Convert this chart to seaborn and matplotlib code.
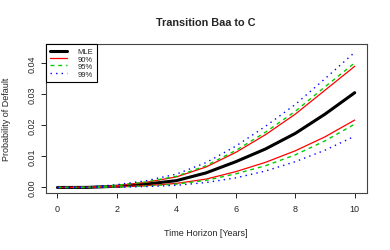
import matplotlib
matplotlib.use("Agg")
import matplotlib.pyplot as plt
import numpy as np
import pandas as pd
import seaborn as sns

# Values, one per year.
years = [0, 1, 2, 3, 4, 5, 6, 7, 8, 9, 10]
mle = [0.0, 0.00003, 0.0004, 0.0011, 0.0022, 0.0047, 0.0083, 0.0124, 0.0174, 0.0236, 0.0305]
ci90_low = [0.0, 0.00001, 0.0002, 0.0006, 0.0013, 0.0027, 0.0051, 0.0081, 0.0118, 0.0163, 0.0217]
ci90_high = [0.0, 0.00006, 0.0006, 0.0017, 0.0034, 0.0066, 0.0113, 0.0170, 0.0236, 0.0313, 0.0390]
ci95_low = [0.0, 0.00001, 0.00015, 0.0005, 0.0011, 0.0023, 0.0044, 0.0070, 0.0105, 0.0150, 0.0204]
ci95_high = [0.0, 0.00007, 0.0007, 0.0018, 0.0036, 0.0070, 0.0119, 0.0178, 0.0245, 0.0324, 0.0401]
ci99_low = [0.0, 0.0, 0.0001, 0.0003, 0.0007, 0.0016, 0.0031, 0.0053, 0.0083, 0.0120, 0.0165]
ci99_high = [0.0, 0.0001, 0.0009, 0.0022, 0.0043, 0.0080, 0.0133, 0.0197, 0.0267, 0.0350, 0.0435]

x_ticks = [0, 2, 4, 6, 8, 10]
y_ticks = [0.00, 0.01, 0.02, 0.03, 0.04]
legend_labels = ["MLE", "90%", "95%", "99%"]

sns.set_style("ticks")
plt.rcParams["font.family"] = ["Liberation Sans", "DejaVu Sans"]
plt.rcParams["font.size"] = 6.5

df = pd.DataFrame({"t": years, "mle": mle,
                   "lo90": ci90_low, "hi90": ci90_high,
                   "lo95": ci95_low, "hi95": ci95_high,
                   "lo99": ci99_low, "hi99": ci99_high})

fig = plt.figure(figsize=(3.9, 2.51), dpi=100)
ax = fig.add_axes([0.1167, 0.227, 0.8233, 0.594])

styles = {
    "mle": dict(color="black", linewidth=2.2, linestyle="-"),
    "90": dict(color="#FF0000", linewidth=0.9, linestyle="-"),
    "95": dict(color="#00CD00", linewidth=1.0, linestyle=(0, (2.8, 2.8))),
    "99": dict(color="#0000FF", linewidth=1.0, linestyle=(0, (1, 3))),
}

sns.lineplot(data=df, x="t", y="mle", ax=ax, **styles["mle"])
for level in ["90", "95", "99"]:
    sns.lineplot(data=df, x="t", y="lo" + level, ax=ax, **styles[level])
    sns.lineplot(data=df, x="t", y="hi" + level, ax=ax, **styles[level])

ax.set_xlim(-0.4, 10.4)
ax.set_ylim(-0.00178, 0.0462)
ax.set_xticks(x_ticks)
ax.set_xticklabels([str(v) for v in x_ticks])
ax.set_yticks(y_ticks)
ax.set_yticklabels([f"{v:.2f}" for v in y_ticks], rotation=90, va="center")
ax.tick_params(axis="both", length=3.6, width=0.7, color="#222222", labelsize=6.5)
ax.tick_params(axis="x", pad=4.5)
ax.tick_params(axis="y", pad=3.0)
for side in ["top", "right", "left", "bottom"]:
    ax.spines[side].set_visible(True)
    ax.spines[side].set_color("#444444")
    ax.spines[side].set_linewidth(0.8)

# title sits well above the plot box, as in base R
fig.text(206 / 390, 1 - 23 / 251, "Transition Baa to C", fontsize=7.8,
         fontweight="bold", ha="center", va="center")
ax.set_xlabel("Time Horizon [Years]", fontsize=6.5)
ax.set_ylabel("Probability of Default", fontsize=6.5)
ax.xaxis.set_label_coords(0.5, -0.234)
ax.yaxis.set_label_coords(-0.107, 0.5)

handles = [plt.Line2D([], [], **styles[k]) for k in ["mle", "90", "95", "99"]]
leg = ax.legend(handles, legend_labels, loc="upper left", bbox_to_anchor=(0, 1),
                fontsize=5.5, frameon=True, fancybox=False, framealpha=1,
                edgecolor="black", borderaxespad=0, borderpad=0.55,
                labelspacing=0.0, handlelength=2.2, handletextpad=1.4)
leg.get_frame().set_linewidth(0.8)

fig.savefig("out.png", dpi=100)
